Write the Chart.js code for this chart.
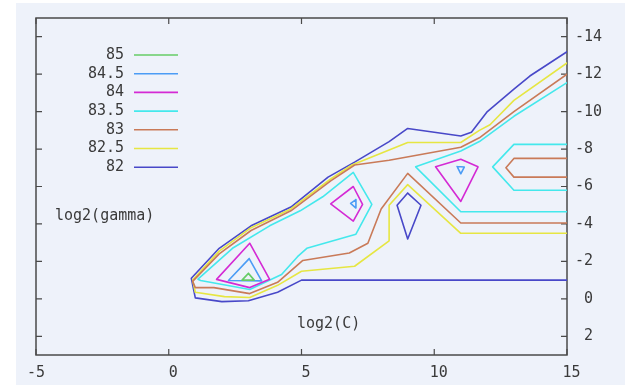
<!DOCTYPE html>
<html>
<head>
<meta charset="utf-8">
<script src="https://cdn.jsdelivr.net/npm/chart.js@4/dist/chart.umd.min.js"></script>
<style>
  html, body { margin: 0; padding: 0; background: #ffffff; }
  #wrap { position: relative; width: 625px; height: 385px; overflow: hidden; }
  #bg { position: absolute; left: 16px; top: 3px; width: 609px; height: 382px; background: #eef2fa; }
  #c { position: absolute; left: 0; top: 0; }
</style>
</head>
<body>
<div id="wrap"><div id="bg"></div><canvas id="c" width="625" height="385"></canvas></div>
<script>
// ---- data (log2(C), log2(gamma)) ----
const xTicks = [-5, 0, 5, 10, 15];
const yTicks = [-14, -12, -10, -8, -6, -4, -2, 0, 2];
const xLabel = 'log2(C)';
const yLabel = 'log2(gamma)';
const levels = ['85', '84.5', '84', '83.5', '83', '82.5', '82'];

const c85_a = [[3.0,-1.36],[2.76,-1.0],[3.22,-1.0],[3.0,-1.36]];

const c845_a = [[3.03,-2.15],[2.25,-0.98],[3.5,-0.96],[3.03,-2.15]];
const c845_b = [[6.85,-5.1],[7.05,-5.3],[7.05,-4.85],[6.85,-5.1]];
const c845_c = [[10.86,-7.07],[11.13,-7.04],[11.0,-6.68],[10.86,-7.07]];

const c84_a = [[3.05,-2.97],[1.8,-1.04],[3.05,-0.6],[3.8,-1.04],[3.05,-2.97]];
const c84_b = [[6.95,-6.0],[6.1,-5.07],[6.95,-4.15],[7.3,-5.05],[6.95,-6.0]];
const c84_c = [[11.0,-7.45],[10.05,-7.05],[11.0,-5.2],[11.65,-7.05],[11.0,-7.45]];

const c835_a = [[15,-11.55],[13,-9.75],[11.7,-8.4],[11,-7.9],[9.3,-7.05],[11,-4.65],[15,-4.65]];
const c835_b = [[15,-8.25],[13,-8.25],[12.2,-7.05],[13,-5.8],[15,-5.8]];
const c835_c = [[1.1,-1.05],[2.4,-2.7],[3.8,-3.9],[4.95,-4.7],[5.8,-5.45],[6.95,-6.75],[7.65,-5.05],[7.05,-3.45],[5.2,-2.7],[4.85,-2.25],[4.25,-1.3],[3.05,-0.5],[1.2,-0.98],[1.1,-1.05]];

const c83_a = [[15,-12.0],[13,-10.0],[11.7,-8.6],[11,-8.1],[8.3,-7.4],[7,-7.15],[6.1,-6.3],[4.6,-4.7],[3.1,-3.65],[1.9,-2.4],[0.9,-0.93],[1.0,-0.6],[1.7,-0.6],[3.05,-0.28],[4.1,-0.88],[5.05,-2.05],[6.8,-2.45],[7.5,-2.97],[8.0,-4.8],[9.0,-6.7],[11,-4.05],[15,-4.05]];
const c83_b = [[15,-7.5],[13,-7.5],[12.7,-7.0],[13,-6.5],[15,-6.5]];

const c825_a = [[15,-12.6],[13,-10.6],[12.1,-9.3],[11.7,-9.0],[11,-8.35],[9,-8.35],[6.9,-7.15],[6.1,-6.4],[4.6,-4.8],[3.1,-3.8],[1.9,-2.55],[0.9,-1.0],[1.0,-0.35],[2.1,-0.12],[3.05,-0.07],[4.1,-0.72],[5.0,-1.47],[7.0,-1.74],[8.3,-3.1],[8.3,-5.0],[9.0,-6.1],[11,-3.5],[15,-3.5]];

const c82_a = [[15,-13.2],[13.6,-11.9],[13,-11.2],[12,-10.0],[11.4,-8.9],[11,-8.7],[9,-9.1],[8.3,-8.4],[7,-7.3],[6,-6.5],[4.6,-4.9],[3.1,-3.9],[1.9,-2.7],[0.85,-1.1],[1.0,-0.05],[2.0,0.15],[3.0,0.1],[4.1,-0.35],[5.0,-1.0],[15,-1.0]];
const c82_b = [[9,-5.65],[8.6,-5.0],[9,-3.2],[9.5,-5.0],[9,-5.65]];

const pieces = {
  '85': [c85_a],
  '84.5': [c845_a, c845_b, c845_c],
  '84': [c84_a, c84_b, c84_c],
  '83.5': [c835_a, c835_b, c835_c],
  '83': [c83_a, c83_b],
  '82.5': [c825_a],
  '82': [c82_a, c82_b]
};

// ---- styles ----
const colors = {
  '85': '#66cc66',
  '84.5': '#4b9cf5',
  '84': '#d42ad4',
  '83.5': '#44e8ec',
  '83': '#c97a58',
  '82.5': '#e6e642',
  '82': '#4848c8'
};
const FONT = '"DejaVu Sans Mono", "Liberation Mono", monospace';
const TEXT = '#3a3a3a';

const datasets = [];
levels.forEach(lv => {
  pieces[lv].forEach(p => {
    datasets.push({
      label: lv,
      data: p.map(([x, y]) => ({ x, y })),
      showLine: true,
      borderColor: colors[lv],
      backgroundColor: colors[lv],
      borderWidth: 1.6,
      pointRadius: 0,
      tension: 0,
      fill: false
    });
  });
});

const fmt = v => (v >= 0 ? ' ' : '') + v;

const framePlugin = {
  id: 'frame',
  beforeDatasetsDraw(chart) {
    const { ctx, chartArea: a, scales } = chart;
    ctx.save();
    ctx.strokeStyle = '#4a4a4a';
    ctx.lineWidth = 1.5;
    ctx.strokeRect(a.left, a.top, a.right - a.left, a.bottom - a.top);
    ctx.lineWidth = 1.2;
    const tl = 6;
    ctx.beginPath();
    xTicks.forEach(v => {
      const px = scales.x.getPixelForValue(v);
      ctx.moveTo(px, a.bottom); ctx.lineTo(px, a.bottom - tl);
      ctx.moveTo(px, a.top); ctx.lineTo(px, a.top + tl);
    });
    yTicks.forEach(v => {
      const py = scales.y.getPixelForValue(v);
      ctx.moveTo(a.left, py); ctx.lineTo(a.left + tl, py);
      ctx.moveTo(a.right, py); ctx.lineTo(a.right - tl, py);
    });
    ctx.stroke();
    ctx.restore();
  },
  afterDraw(chart) {
    const { ctx, scales } = chart;
    ctx.save();
    ctx.font = '15px ' + FONT;
    ctx.fillStyle = TEXT;
    ctx.textBaseline = 'middle';
    // legend
    const lx = 124, ly0 = 55, dy = 18.7;
    levels.forEach((lv, i) => {
      const y = ly0 + i * dy;
      ctx.textAlign = 'right';
      ctx.fillStyle = TEXT;
      ctx.fillText(lv, lx, y);
      ctx.strokeStyle = colors[lv];
      ctx.lineWidth = 1.6;
      ctx.beginPath();
      ctx.moveTo(134, y); ctx.lineTo(178, y);
      ctx.stroke();
    });
    // axis labels (placed inside the plot, as in the source)
    ctx.textAlign = 'left';
    ctx.fillStyle = TEXT;
    ctx.fillText(yLabel, 55, 216);
    ctx.fillText(xLabel, 297, 324);
    ctx.restore();
  }
};

new Chart(document.getElementById('c'), {
  type: 'scatter',
  data: { datasets },
  options: {
    responsive: false,
    animation: false,
    devicePixelRatio: 1,
    layout: { padding: { left: 36, top: 18, right: 0, bottom: 0 } },
    plugins: { legend: { display: false }, tooltip: { enabled: false } },
    elements: { line: { borderCapStyle: 'round', borderJoinStyle: 'round' } },
    scales: {
      x: {
        type: 'linear', position: 'bottom', min: -5, max: 15,
        afterBuildTicks: s => { s.ticks = xTicks.map(v => ({ value: v })); },
        afterFit: s => { s.height = 30; },
        grid: { display: false, drawTicks: false },
        border: { display: false },
        ticks: { font: { family: FONT, size: 15 }, color: TEXT, padding: 9, maxRotation: 0, autoSkip: false, callback: v => fmt(v) }
      },
      y: {
        type: 'linear', position: 'right', reverse: true, min: -15, max: 3,
        afterBuildTicks: s => { s.ticks = yTicks.map(v => ({ value: v })); },
        afterFit: s => { s.width = 58; },
        grid: { display: false, drawTicks: false },
        border: { display: false },
        ticks: { font: { family: FONT, size: 15 }, color: TEXT, padding: 8, autoSkip: false, callback: v => fmt(v) }
      }
    }
  },
  plugins: [framePlugin]
});
</script>
</body>
</html>
